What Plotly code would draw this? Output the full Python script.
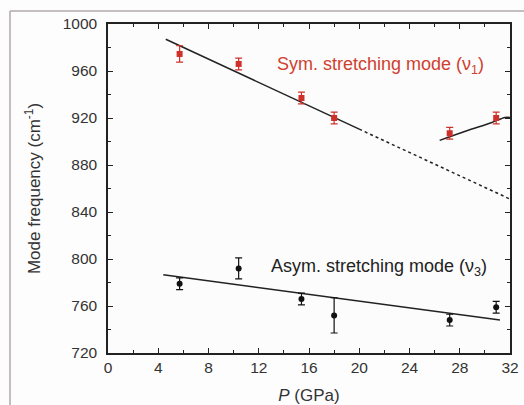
import plotly.graph_objects as go

# Symmetric stretching mode (nu1), red squares
sym_p = [5.7, 10.4, 15.4, 18.0, 27.2, 30.9]
sym_freq = [974.5, 966, 937, 920, 907, 920]
sym_err = [7, 5, 5, 5, 5, 5]

# Asymmetric stretching mode (nu3), black circles
asym_p = [5.7, 10.4, 15.4, 18.0, 27.2, 30.9]
asym_freq = [779, 792, 766, 752, 748, 759]
asym_err = [5, 9, 5, 15, 5, 5]

# fit lines
fit1_solid_p = [4.6, 20.0]
fit1_solid_f = [987, 910.5]
fit1_dash_p = [20.0, 32.0]
fit1_dash_f = [910.5, 851]
fit2_p = [26.4, 28.5, 30.5, 31.6, 32.0]
fit2_f = [901, 909, 916, 920.5, 920.5]
fit3_p = [4.4, 31.2]
fit3_f = [786.5, 748]

xticks = [0, 4, 8, 12, 16, 20, 24, 28, 32]
yticks = [720, 760, 800, 840, 880, 920, 960, 1000]

FONT = "Liberation Sans, Arial, sans-serif"

fig = go.Figure()

# fitted lines
fig.add_trace(go.Scatter(x=fit1_solid_p, y=fit1_solid_f, mode="lines",
                         line=dict(color="#222", width=1.5)))
fig.add_trace(go.Scatter(x=fit1_dash_p, y=fit1_dash_f, mode="lines",
                         line=dict(color="#222", width=1.5, dash="dot")))
fig.add_trace(go.Scatter(x=fit2_p, y=fit2_f, mode="lines", line_shape="spline",
                         line=dict(color="#222", width=1.5)))
fig.add_trace(go.Scatter(x=fit3_p, y=fit3_f, mode="lines",
                         line=dict(color="#222", width=1.5)))

# data points
fig.add_trace(go.Scatter(
    x=sym_p, y=sym_freq, mode="markers",
    marker=dict(symbol="square", size=6, color="#d0302a"),
    error_y=dict(type="data", array=sym_err, color="#d0302a", thickness=1.2, width=3.5),
))
fig.add_trace(go.Scatter(
    x=asym_p, y=asym_freq, mode="markers",
    marker=dict(symbol="circle", size=6, color="#111"),
    error_y=dict(type="data", array=asym_err, color="#111", thickness=1.2, width=3.5),
))

fig.add_annotation(x=21.7, y=965, text="Sym. stretching mode (ν<sub>1</sub>)",
                   showarrow=False, font=dict(family=FONT, size=18, color="#d0402f"))
fig.add_annotation(x=21.6, y=793, text="Asym. stretching mode (ν<sub>3</sub>)",
                   showarrow=False, font=dict(family=FONT, size=18, color="#222"))

# light outer frame
fig.add_shape(type="line", xref="paper", yref="paper",
              x0=-0.2438, y0=1.0395, x1=1.04, y1=1.0395,
              line=dict(color="#b0a8ac", width=1.5))
fig.add_shape(type="line", xref="paper", yref="paper",
              x0=-0.2438, y0=1.0395, x1=-0.2438, y1=-0.16,
              line=dict(color="#b0a8ac", width=1.5))

axis_common = dict(
    showgrid=False, zeroline=False, showline=True, linecolor="#222", linewidth=1.5,
    mirror="allticks", ticks="inside", ticklen=5, tickwidth=1.2, tickcolor="#222",
    tickfont=dict(family=FONT, size=15.5, color="#333"),
    minor=dict(ticks="inside", ticklen=3, tickwidth=1, tickcolor="#222"),
    automargin=False,
)

fig.update_xaxes(range=[0, 32], tickvals=xticks, minor_dtick=2,
                 title=dict(text="<i>P</i> (GPa)", standoff=15,
                            font=dict(family=FONT, size=17, color="#333")),
                 **axis_common)
fig.update_yaxes(range=[720, 1000], tickvals=yticks, minor_dtick=20,
                 ticklabelstandoff=6,
                 title=dict(text="Mode frequency (cm<sup>-1</sup>)", standoff=18,
                            font=dict(family=FONT, size=17, color="#333")),
                 **axis_common)

fig.update_layout(
    width=524, height=405,
    margin=dict(l=108, r=14, t=24, b=52),
    paper_bgcolor="#fdfdfd", plot_bgcolor="#fcfcfc",
    showlegend=False,
)

# drop the page's default body margin so the figure fills the window exactly
fig.write_html("out.html", config={"displayModeBar": False},
               post_script="document.body.style.margin='0';document.body.style.overflow='hidden';")
